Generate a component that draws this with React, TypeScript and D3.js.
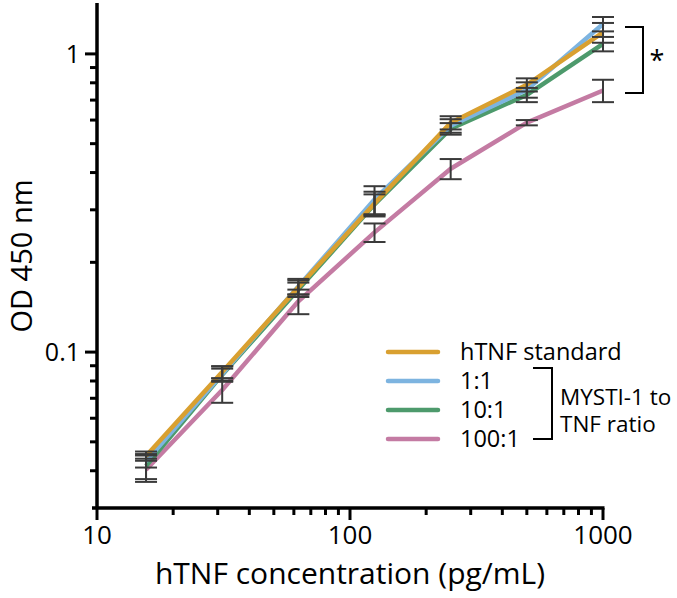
import React from "react";
import * as d3 from "d3";

const concentrations = [15.625, 31.25, 62.5, 125, 250, 500, 1000];
const seriesNames = ["hTNF standard", "1:1", "10:1", "100:1"];
const seriesColors = ["#d9a030", "#7db4e0", "#4d9a6c", "#c47ba3"];
const standardValues = [0.0448, 0.0857, 0.165, 0.315, 0.588, 0.788, 1.18];
const ratio1Values = [0.043, 0.0845, 0.166, 0.325, 0.574, 0.758, 1.26];
const ratio10Values = [0.0415, 0.084, 0.162, 0.313, 0.561, 0.729, 1.08];
const ratio100Values = [0.0403, 0.0746, 0.148, 0.252, 0.412, 0.588, 0.754];
const standardErr = [0.0016, 0.004, 0.009, 0.03, 0.03, 0.04, 0.09];
const ratio1Err = [0.002, 0.005, 0.01, 0.035, 0.03, 0.045, 0.07];
const ratio10Err = [0.004, 0.004, 0.009, 0.025, 0.025, 0.04, 0.06];
const ratio100Err = [0.0036, 0.007, 0.014, 0.018, 0.032, 0.012, 0.065];
const xTickValues = [10, 100, 1000];
const yTickValues = [0.1, 1];
const xMinorTicks = [20, 30, 40, 50, 60, 70, 80, 90, 200, 300, 400, 500, 600, 700, 800, 900];
const yMinorTicks = [0.04, 0.05, 0.06, 0.07, 0.08, 0.09, 0.2, 0.3, 0.4, 0.5, 0.6, 0.7, 0.8, 0.9];
const xTitle = "hTNF concentration (pg/mL)";
const yTitle = "OD 450 nm";
const bracketLabel = ["MYSTI-1 to", "TNF ratio"];

const allValues = [standardValues, ratio1Values, ratio10Values, ratio100Values];
const allErr = [standardErr, ratio1Err, ratio10Err, ratio100Err];

const FONT = "'Open Sans', sans-serif";

export default function App() {
  const x = d3.scaleLog().domain([10, 1000]).range([97, 603]);
  const y = d3.scaleLog().domain([0.03, 1.5]).range([508, 1.4]);
  const line = d3
    .line<number>()
    .x((_, i) => x(concentrations[i]))
    .y((d) => y(d));
  const drawOrder = [3, 2, 1, 0];
  const axisColor = "#000";
  const errColor = "#3a3a3a";

  const legX0 = 388;
  const legX1 = 438;
  const legRows = [352, 381, 410, 439];

  return (
    <svg
      width={677}
      height={598}
      style={{ position: "absolute", left: 0, top: 0, background: "#fff" }}
      fontFamily={FONT}
    >
      {drawOrder.map((s) => (
        <path
          key={"l" + s}
          d={line(allValues[s]) || ""}
          fill="none"
          stroke={seriesColors[s]}
          strokeWidth={4.5}
          strokeLinejoin="round"
        />
      ))}
      {drawOrder.map((s) =>
        allValues[s].map((v, i) => {
          const cx = x(concentrations[i]);
          const hi = y(v + allErr[s][i]);
          const lo = y(v - allErr[s][i]);
          return (
            <g key={"e" + s + "-" + i} stroke={errColor} strokeWidth={2}>
              <line x1={cx} x2={cx} y1={hi} y2={lo} />
              <line x1={cx - 11} x2={cx + 11} y1={hi} y2={hi} />
              <line x1={cx - 11} x2={cx + 11} y1={lo} y2={lo} />
            </g>
          );
        })
      )}
      <line x1={97} x2={97} y1={3} y2={508} stroke={axisColor} strokeWidth={3.5} />
      <line x1={92} x2={x(1000) + 1.5} y1={508} y2={508} stroke={axisColor} strokeWidth={3.5} />
      {yTickValues.map((t) => (
        <g key={"yt" + t}>
          <line x1={85} x2={97} y1={y(t)} y2={y(t)} stroke={axisColor} strokeWidth={3} />
          <text x={80} y={y(t)} dy="0.35em" textAnchor="end" fontSize={25}>
            {String(t)}
          </text>
        </g>
      ))}
      {yMinorTicks.map((t) => (
        <line key={"ym" + t} x1={90} x2={97} y1={y(t)} y2={y(t)} stroke={axisColor} strokeWidth={3} />
      ))}
      {xTickValues.map((t) => (
        <g key={"xt" + t}>
          <line x1={x(t)} x2={x(t)} y1={508} y2={520} stroke={axisColor} strokeWidth={3} />
          <text x={x(t)} y={544} textAnchor="middle" fontSize={26}>
            {String(t)}
          </text>
        </g>
      ))}
      {xMinorTicks.map((t) => (
        <line key={"xm" + t} x1={x(t)} x2={x(t)} y1={508} y2={515} stroke={axisColor} strokeWidth={3} />
      ))}
      <text x={350} y={584} textAnchor="middle" fontSize={30}>
        {xTitle}
      </text>
      <text transform={`translate(32,256) rotate(-90)`} textAnchor="middle" fontSize={29}>
        {yTitle}
      </text>
      <path d={`M625,27 H643 V93 H625`} fill="none" stroke="#000" strokeWidth={2} />
      <text x={657} y={70} textAnchor="middle" fontSize={27}>
        *
      </text>
      {seriesNames.map((n, i) => (
        <g key={"lg" + i}>
          <line
            x1={legX0}
            x2={legX1}
            y1={legRows[i]}
            y2={legRows[i]}
            stroke={seriesColors[i]}
            strokeWidth={4.5}
            strokeLinecap="round"
          />
          <text x={460} y={legRows[i]} dy="0.35em" fontSize={23.5}>
            {n}
          </text>
        </g>
      ))}
      <path
        d={`M533,${legRows[1] - 13} H552 V${legRows[3]} H533`}
        fill="none"
        stroke="#000"
        strokeWidth={2}
      />
      <text x={560} y={405} fontSize={22.5}>
        {bracketLabel[0]}
      </text>
      <text x={560} y={432} fontSize={22.5}>
        {bracketLabel[1]}
      </text>
    </svg>
  );
}
